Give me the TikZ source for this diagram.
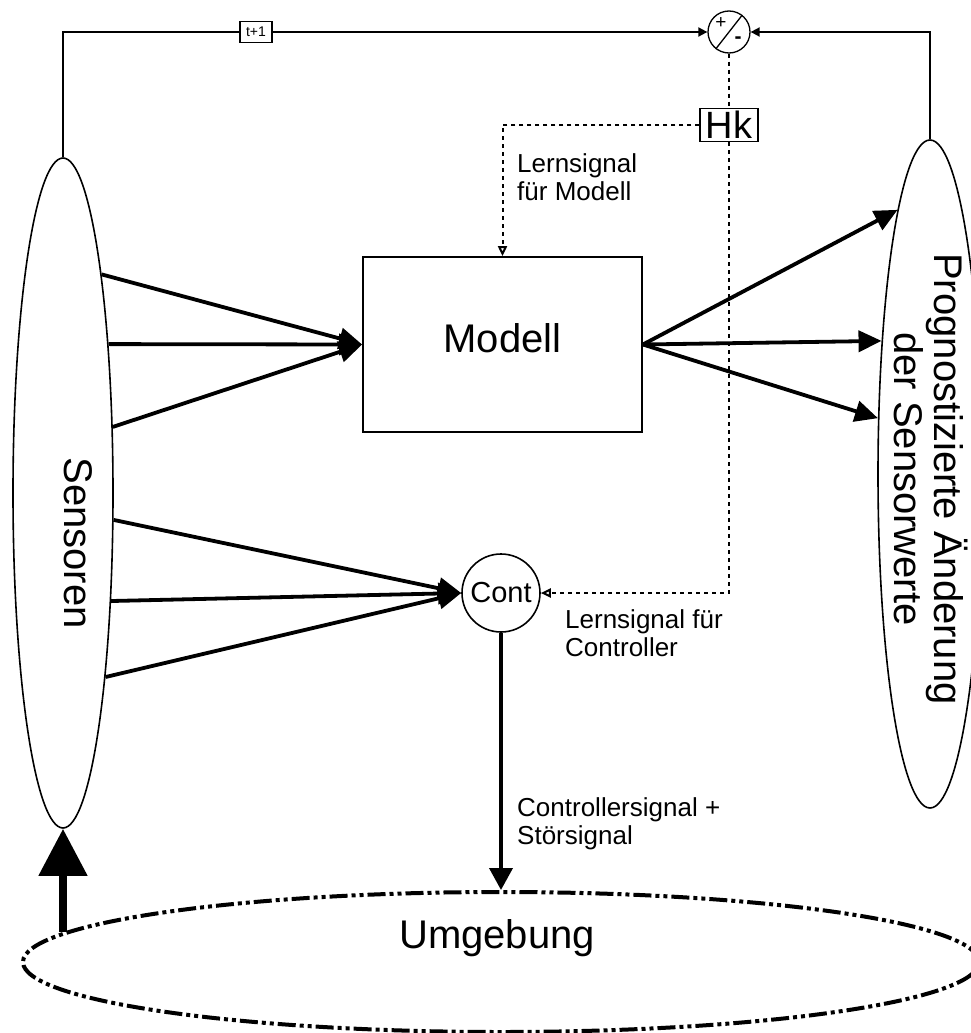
\documentclass[tikz,border=0pt]{standalone}
\usepackage{fontspec}
\setmainfont{Liberation Sans}
\usetikzlibrary{arrows.meta,shapes.geometric}

\begin{document}
\begin{tikzpicture}[x=1pt,y=-1pt,
  thinline/.style={line width=1.8pt},
  dotline/.style={line width=2pt, dash pattern=on 4pt off 4pt},
  opentip/.style={-{Triangle[open,length=10pt,width=9pt]}},
  smalltip/.style={-{Triangle[length=9pt,width=9pt]}},
  signal/.style={line width=3.8pt, -{Triangle[length=23pt,width=21pt]}},
  bigfont/.style={font=\fontsize{40}{40}\selectfont},
  lbl/.style={font=\fontsize{26}{28}\selectfont, align=left, inner sep=0pt, anchor=north west},
]
\useasboundingbox (0,0) rectangle (970,1033);

% sensor and prediction ellipses
\node[ellipse, draw, line width=1.6pt, minimum width=100pt, minimum height=670pt, inner sep=0pt] (sens) at (63,493) {};
\node[bigfont, rotate=-90] at (78,543) {Sensoren};
\node[ellipse, draw, line width=1.6pt, minimum width=104pt, minimum height=668pt, inner sep=0pt] (prog) at (930,474) {};
\node[bigfont, rotate=-90, align=center, inner sep=0pt] at (931,479) {Prognostizierte Änderung\\der Sensorwerte};

% model and controller
\node[draw, line width=1.8pt, minimum width=279pt, minimum height=175pt, text depth=12pt, bigfont] (modell) at (502.5,344.5) {Modell};
\node[circle, draw, line width=1.6pt, minimum size=78pt, inner sep=0pt, font=\fontsize{29}{30}\selectfont] (cont) at (501,593) {Cont};

% environment
\node[ellipse, draw, line width=4pt, dash pattern=on 18pt off 4pt on 4pt off 4pt on 4pt off 4pt, minimum width=956pt, minimum height=140pt, inner sep=0pt] (umg) at (501,962) {};
\node[bigfont] at (497,938) {Umgebung};

% comparator, error block and delay
\node[circle, draw, line width=1.3pt, minimum size=42pt, inner sep=0pt] (pm) at (729,32) {};
\draw[line width=1.3pt] (pm.232) -- (pm.52);
\node[font=\fontsize{19}{19}\selectfont, inner sep=0pt] at (721,23) {+};
\node[font=\fontsize{21}{21}\selectfont\bfseries, inner sep=0pt] at (738,40) {-};
\node[draw, line width=1.3pt, minimum width=58pt, minimum height=33pt, inner sep=0pt, font=\fontsize{38}{38}\selectfont] (hk) at (729,125) {Hk};
\node[draw, line width=1.3pt, minimum width=32pt, minimum height=21pt, inner sep=0pt, font=\fontsize{14}{14}\selectfont] (t1) at (256,32) {t+1};

% feedback loop at the top
\draw[thinline] (sens.north) |- (t1.west);
\draw[thinline, smalltip] (t1.east) -- (pm.west);
\draw[thinline, smalltip] (prog.north) |- (pm.east);

% learning signals
\draw[dotline] (pm.south) -- (hk.north);
\draw[dotline, opentip] (hk.west) -| (modell.north);
\draw[dotline, opentip] (hk.south) |- (cont.east);

% sensor signals
\foreach \a in {80.9,73.4,53.4} \draw[signal] (sens.\a) -- (modell.west);
\foreach \a in {-28.5,-66.1,-77.5} \draw[signal] (sens.\a) -- (cont.west);
\foreach \a in {97.1,110.3,133.5} \draw[signal] (modell.east) -- (prog.\a);

% controller output and environment feedback
\draw[line width=3.8pt, -{Triangle[length=22pt,width=23pt]}] (cont.south) -- (umg.north);
\draw[line width=8pt, -{Triangle[length=47pt,width=47pt]}] (umg.176.4 -| sens.south) -- (sens.south);

% labels
\node[lbl] at (517,153) {Lernsignal\\für Modell};
\node[lbl] at (565,609) {Lernsignal für\\Controller};
\node[lbl] at (517,797) {Controllersignal +\\Störsignal};
\end{tikzpicture}
\end{document}
